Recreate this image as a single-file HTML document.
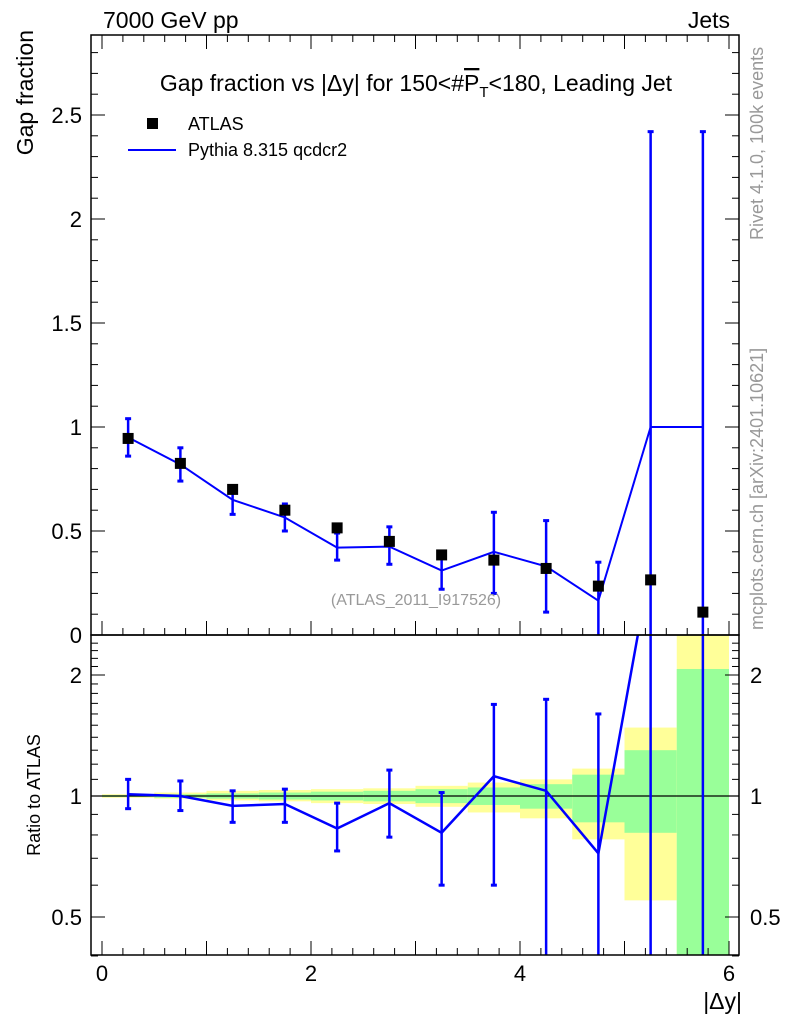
<!DOCTYPE html>
<html><head><meta charset="utf-8"><style>
body{margin:0;background:#fff;}
svg text{font-family:"Liberation Sans",sans-serif;}
</style></head><body>
<svg id="c" width="786" height="1024" xmlns="http://www.w3.org/2000/svg">
<g id="bands"></g>
<g id="marks"></g>
<g id="axes"></g>
<text x="103" y="28" font-size="23">7000 GeV pp</text>
<text x="730" y="28" font-size="23" text-anchor="end">Jets</text>
<text x="416" y="91" font-size="23" text-anchor="middle">Gap fraction vs |Δy| for 150&lt;#<tspan text-decoration="overline">P</tspan><tspan font-size="15" dy="6">T</tspan><tspan dy="-6">&lt;180, Leading Jet</tspan></text>
<rect x="147" y="118" width="11" height="11" fill="#000"/>
<text x="188" y="130" font-size="18">ATLAS</text>
<line x1="128" y1="150" x2="176" y2="150" stroke="#00f" stroke-width="2"/>
<text x="188" y="156" font-size="18">Pythia 8.315 qcdcr2</text>
<text x="416" y="605" font-size="16" fill="#999" text-anchor="middle">(ATLAS_2011_I917526)</text>
<text transform="translate(33,30) rotate(-90)" font-size="23" text-anchor="end">Gap fraction</text>
<text transform="translate(40,795) rotate(-90)" font-size="18" text-anchor="middle">Ratio to ATLAS</text>
<text x="742" y="1009" font-size="23" text-anchor="end">|Δy|</text>
<text transform="translate(763,240) rotate(-90)" font-size="18" fill="#999">Rivet 4.1.0,  100k events</text>
<text transform="translate(763,630) rotate(-90)" font-size="18" fill="#999">mcplots.cern.ch [arXiv:2401.10621]</text>
</svg>
<script>
const binEdges=[0,0.5,1,1.5,2,2.5,3,3.5,4,4.5,5,5.5,6];
const atlasVals=[0.945,0.825,0.70,0.60,0.515,0.45,0.385,0.36,0.32,0.235,0.265,0.11];
const mcVals=[0.95,0.82,0.65,0.565,0.42,0.425,0.31,0.40,0.33,0.165,1.0,1.0];
const mcLo=[0.86,0.74,0.58,0.50,0.36,0.34,0.22,0.20,0.11,0.0,0.0,0.0];
const mcHi=[1.04,0.90,0.71,0.63,0.49,0.52,0.40,0.59,0.55,0.35,2.42,2.42];
const ratioVals=[1.01,1.0,0.945,0.955,0.83,0.96,0.81,1.12,1.03,0.72,3.77,9.1];
const ratioLo=[0.93,0.92,0.86,0.86,0.73,0.79,0.60,0.60,0.30,0.30,0.3,0.3];
const ratioHi=[1.10,1.09,1.03,1.04,0.96,1.16,1.02,1.69,1.74,1.60,9,9];
const yelLo=[0.99,0.985,0.975,0.97,0.96,0.955,0.94,0.91,0.88,0.78,0.55,0.3];
const yelHi=[1.01,1.02,1.03,1.035,1.04,1.045,1.06,1.08,1.10,1.17,1.48,3];
const grnLo=[0.995,0.99,0.985,0.98,0.975,0.97,0.96,0.95,0.93,0.86,0.81,0.3];
const grnHi=[1.005,1.01,1.015,1.02,1.025,1.03,1.04,1.05,1.07,1.13,1.30,2.07];
const xTicks=[0,2,4,6];
const yTicks=[0,0.5,1,1.5,2,2.5];
const yTickLabels=["0","0.5","1","1.5","2","2.5"];
const rTicks=[0.5,1,2];

const L=91,R=739,T=35,M=635,B=955;
const X=v=>102+v*104.5;
const Y=v=>635-v*208;
const RY=v=>796-121*Math.log2(v);
const NS="http://www.w3.org/2000/svg";
function mk(parent,tag,attrs){const e=document.createElementNS(NS,tag);for(const k in attrs)e.setAttribute(k,attrs[k]);document.getElementById(parent).appendChild(e);return e;}
const clampRY=v=>Math.min(B,Math.max(M,RY(v)));

for(let i=0;i<atlasVals.length;i++){
  const x0=X(binEdges[i]),x1=X(binEdges[i+1]);
  let e=mk('bands','rect',{x:x0,y:clampRY(yelHi[i]),width:x1-x0,height:clampRY(yelLo[i])-clampRY(yelHi[i]),fill:'#ffff99'});
  
  e=mk('bands','rect',{x:x0,y:clampRY(grnHi[i]),width:x1-x0,height:clampRY(grnLo[i])-clampRY(grnHi[i]),fill:'#99ff99'});
  
}
let ln=mk('bands','line',{x1:L,x2:R,y1:RY(1),y2:RY(1),stroke:'#000','stroke-width':1.2});


const cp=mk('marks','clipPath',{id:'cm'});
const cr=document.createElementNS(NS,'rect');cr.setAttribute('x',L);cr.setAttribute('y',T);cr.setAttribute('width',R-L);cr.setAttribute('height',M-T);cp.appendChild(cr);
const cp2=mk('marks','clipPath',{id:'cr'});
const cr2=document.createElementNS(NS,'rect');cr2.setAttribute('x',L);cr2.setAttribute('y',M);cr2.setAttribute('width',R-L);cr2.setAttribute('height',B-M);cp2.appendChild(cr2);

const ctr=i=>(binEdges[i]+binEdges[i+1])/2;
let pts=[];
for(let i=0;i<mcVals.length;i++)pts.push(X(ctr(i))+','+Y(mcVals[i]));
let pl=mk('marks','polyline',{points:pts.join(' '),fill:'none',stroke:'#00f','stroke-width':2,'clip-path':'url(#cm)'});

for(let i=0;i<mcVals.length;i++){
  const x=X(ctr(i));
  let e=mk('marks','line',{x1:x,x2:x,y1:Y(mcLo[i]),y2:Y(mcHi[i]),stroke:'#00f','stroke-width':2.5,'clip-path':'url(#cm)'});
  
  for(const v of [mcLo[i],mcHi[i]]){ if(v>0){let c=mk('marks','line',{x1:x-3,x2:x+3,y1:Y(v),y2:Y(v),stroke:'#00f','stroke-width':3});}}
}
for(let i=0;i<atlasVals.length;i++){
  let e=mk('marks','rect',{x:X(ctr(i))-5.5,y:Y(atlasVals[i])-5.5,width:11,height:11,fill:'#000'});
  
}
pts=[];
for(let i=0;i<ratioVals.length;i++)pts.push(X(ctr(i))+','+RY(ratioVals[i]));
pl=mk('marks','polyline',{points:pts.join(' '),fill:'none',stroke:'#00f','stroke-width':2.5,'clip-path':'url(#cr)'});

for(let i=0;i<ratioVals.length;i++){
  const x=X(ctr(i));
  let e=mk('marks','line',{x1:x,x2:x,y1:RY(ratioLo[i]),y2:RY(ratioHi[i]),stroke:'#00f','stroke-width':2.5,'clip-path':'url(#cr)'});
  
  for(const v of [ratioLo[i],ratioHi[i]]){ const yy=RY(v); if(yy>M&&yy<B){let c=mk('marks','line',{x1:x-3,x2:x+3,y1:yy,y2:yy,stroke:'#00f','stroke-width':3});}}
}
let f=mk('axes','rect',{x:L,y:T,width:R-L,height:M-T,fill:'none',stroke:'#000','stroke-width':1.5});

f=mk('axes','rect',{x:L,y:M,width:R-L,height:B-M,fill:'none',stroke:'#000','stroke-width':1.5});

for(let v=0;v<=6.01;v+=0.2){
  const x=X(v),maj=Math.abs(v-Math.round(v))<1e-6;
  const len=maj?14:7;
  for(const [y0,d] of [[M,-1],[T,1],[B,-1]]){
    let t=mk('axes','line',{x1:x,x2:x,y1:y0,y2:y0+d*len,stroke:'#000','stroke-width':1});
    
  }
}
xTicks.forEach(v=>{let t=mk('axes','text',{x:X(v),y:981,'font-size':22,'text-anchor':'middle'});t.textContent=v;
 });
for(let v=0;v<=2.9;v+=0.1){
  const y=Y(v),maj=Math.abs(v*2-Math.round(v*2))<1e-6;const len=maj?14:7;
  for(const [x0,d] of [[L,1],[R,-1]]){let t=mk('axes','line',{x1:x0,x2:x0+d*len,y1:y,y2:y,stroke:'#000','stroke-width':1});
   }
}
yTicks.forEach((v,i)=>{let t=mk('axes','text',{x:82,y:Y(v)+8,'font-size':22,'text-anchor':'end'});t.textContent=yTickLabels[i];
 });
for(let v=0.4;v<=2.5;v+=0.1){
  const y=RY(v);const maj=rTicks.some(r=>Math.abs(r-v)<1e-6);const len=maj?14:7;
  for(const [x0,d] of [[L,1],[R,-1]]){let t=mk('axes','line',{x1:x0,x2:x0+d*len,y1:y,y2:y,stroke:'#000','stroke-width':1});
   }
}
rTicks.forEach(v=>{for(const [x,a] of [[82,'end'],[750,'start']]){let t=mk('axes','text',{x:x,y:RY(v)+8,'font-size':22,'text-anchor':a});t.textContent=v;
 }});
</script>
</body></html>
